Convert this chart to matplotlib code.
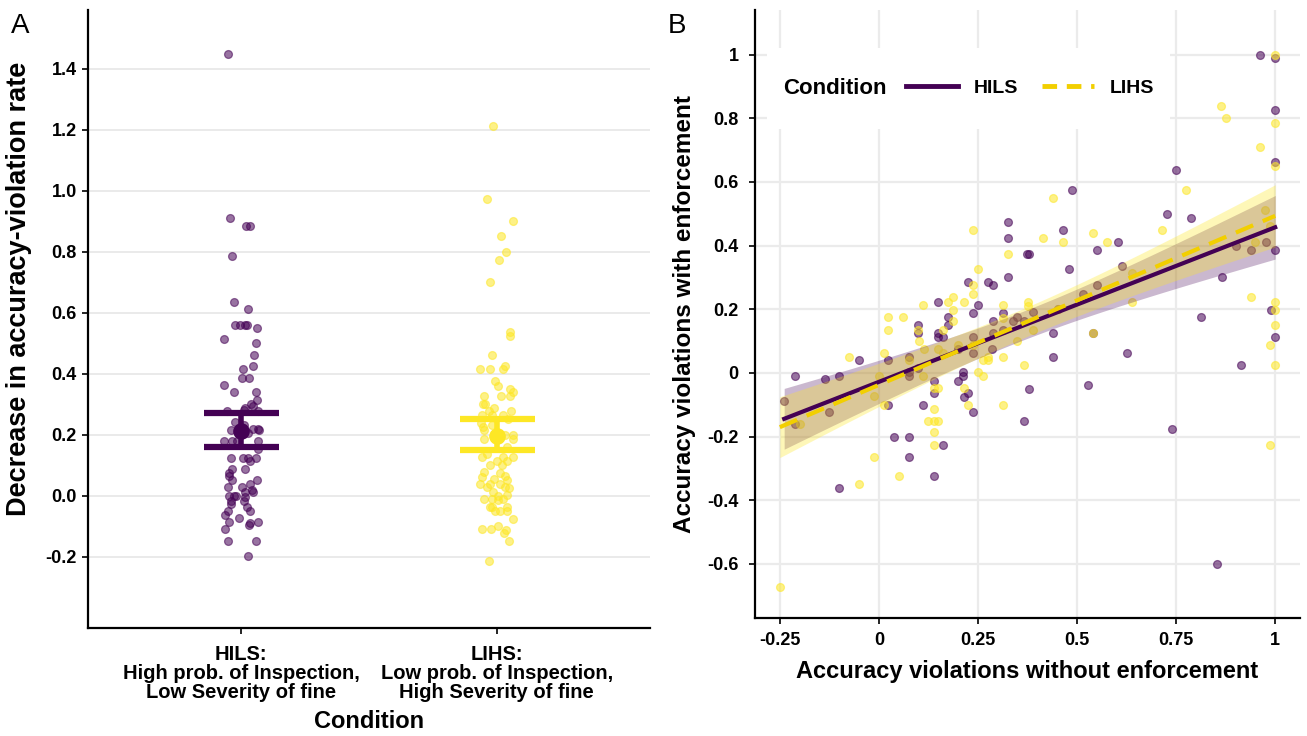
import numpy as np
import matplotlib
matplotlib.use('Agg')
import matplotlib.pyplot as plt
from matplotlib.lines import Line2D
from matplotlib.offsetbox import HPacker, VPacker, DrawingArea

plt.rcParams['font.family'] = ['Liberation Sans', 'DejaVu Sans']

PURPLE = '#440154'
YELLOW = '#FDE725'
GOLD = '#F2CF00'

# ---------------- Panel A data ----------------
conditions = ['HILS', 'LIHS']
cond_labels = ['HILS:\nHigh prob. of Inspection,\nLow Severity of fine',
               'LIHS:\nLow prob. of Inspection,\nHigh Severity of fine']

hils_dec = [1.448, 0.912, 0.886, 0.886, 0.786, 0.637, 0.613, 0.561, 0.561, 0.561,
            0.561, 0.550, 0.513, 0.500, 0.463, 0.426, 0.415, 0.387, 0.387, 0.364,
            0.340, 0.340, 0.314, 0.302, 0.295, 0.289, 0.278, 0.283, 0.278, 0.242,
            0.233, 0.216, 0.221, 0.221, 0.216, 0.205, 0.179, 0.179, 0.179, 0.179,
            0.154, 0.126, 0.126, 0.126, 0.126, 0.115, 0.089, 0.089, 0.075, 0.064,
            0.051, 0.053, 0.028, 0.028, 0.039, 0.019, 0.013, 0.013, 0.0, 0.0,
            0.0, -0.003, -0.015, -0.015, -0.026, -0.037, -0.048, -0.048, -0.062, -0.071,
            -0.084, -0.088, -0.084, -0.096, -0.110, -0.147, -0.147, -0.197]
# horizontal jitter (category units)
hils_jit = [-0.051, -0.045, 0.019, 0.035, -0.036, -0.030, 0.028, -0.023, -0.004, 0.015,
            0.022, 0.060, -0.066, 0.058, 0.051, 0.046, 0.006, 0.003, 0.032, -0.067,
            -0.030, 0.058, 0.062, 0.037, 0.048, 0.015, -0.055, 0.009, 0.067, -0.023,
            0.009, -0.042, 0.048, 0.064, 0.069, 0.028, -0.068, -0.036, -0.017, 0.067,
            0.064, -0.042, 0.006, 0.028, 0.057, 0.035, -0.036, 0.015, -0.046, -0.046,
            -0.036, 0.063, -0.051, 0.003, 0.035, 0.044, 0.048, 0.015, -0.049, -0.030,
            -0.021, 0.015, -0.039, 0.009, -0.042, 0.022, -0.051, 0.035, -0.064, -0.010,
            -0.049, 0.035, 0.067, 0.032, -0.062, -0.051, 0.057, 0.026]

lihs_dec = [1.213, 0.974, 0.900, 0.851, 0.800, 0.775, 0.700, 0.538, 0.525, 0.463,
            0.415, 0.415, 0.415, 0.427, 0.378, 0.362, 0.351, 0.340, 0.327, 0.327,
            0.327, 0.302, 0.302, 0.289, 0.277, 0.277, 0.266, 0.253, 0.266, 0.264,
            0.240, 0.225, 0.215, 0.231, 0.187, 0.200, 0.187, 0.200, 0.160, 0.127,
            0.138, 0.127, 0.102, 0.114, 0.127, 0.102, 0.113, 0.078, 0.062, 0.076,
            0.064, 0.040, 0.029, 0.054, 0.040, 0.051, 0.040, 0.029, 0.027, 0.002,
            0.013, -0.011, -0.011, 0.0, -0.011, -0.014, -0.036, -0.036, -0.036, -0.050,
            -0.050, -0.050, -0.074, -0.110, -0.110, -0.098, -0.112, -0.123, -0.148, -0.212]
lihs_jit = [-0.013, -0.039, 0.064, 0.017, 0.036, 0.009, -0.028, 0.054, 0.051, -0.017,
            -0.064, -0.026, 0.023, 0.032, -0.006, 0.006, 0.051, 0.064, 0.054, 0.017,
            -0.048, -0.055, -0.045, -0.010, -0.032, 0.055, 0.026, 0.045, -0.058, -0.019,
            -0.060, -0.054, -0.051, -0.019, -0.048, 0.064, 0.064, 0.032, 0.039, -0.058,
            -0.039, 0.064, -0.026, 0.0, 0.026, 0.019, 0.039, -0.051, -0.058, 0.013,
            0.032, -0.064, -0.039, -0.009, -0.026, 0.042, 0.013, 0.032, 0.049, 0.039,
            -0.013, -0.048, -0.019, 0.004, 0.023, 0.006, -0.028, -0.019, 0.041, -0.006,
            0.013, 0.039, 0.064, -0.058, -0.022, 0.004, 0.036, 0.030, 0.049, -0.030]

cond_means = [0.212, 0.198]
cond_ci_lo = [0.162, 0.151]
cond_ci_hi = [0.272, 0.253]

# ---------------- Panel B data ----------------
hils_x = [0.962, 1.0, 1.0, 1.0, 0.75, 0.487, 0.788, 0.726, 0.465, 0.603,
          0.378, 0.551, 0.90, 0.939, 0.976, 1.0, 0.479, 0.614, 0.865, 0.551,
          0.514, 0.39, 0.451, 0.814, 0.989, 1.0, 0.44, 0.54, 0.627, 0.44,
          0.913, 0.365, 0.378, 0.527, 0.365, 0.74, 0.852, 0.325, 0.325, 0.375,
          0.325, 0.225, 0.275, 0.288, 0.15, 0.25, 0.237, 0.314, 0.349, 0.339,
          0.175, 0.175, 0.099, 0.099, 0.15, 0.15, 0.161, 0.237, 0.288, 0.288,
          0.314, 0.286, -0.051, 0.024, 0.076, 0.2, 0.237, -0.212, -0.137, -0.1,
          0.076, 0.076, 0.099, 0.212, 0.212, -0.239, -0.212, -0.125, 0.024, 0.112,
          0.138, 0.138, 0.2, 0.214, 0.225, 0.237, 0.163, 0.037, 0.076, 0.076,
          0.138, -0.1]
hils_y = [1.0, 0.99, 0.825, 0.662, 0.638, 0.574, 0.488, 0.50, 0.449, 0.412,
          0.374, 0.386, 0.40, 0.386, 0.412, 0.386, 0.325, 0.337, 0.30, 0.275,
          0.249, 0.19, 0.20, 0.175, 0.199, 0.113, 0.126, 0.125, 0.062, 0.05,
          0.026, 0.162, -0.049, -0.037, -0.15, -0.175, -0.599, 0.475, 0.424, 0.374,
          0.30, 0.287, 0.287, 0.275, 0.224, 0.213, 0.188, 0.188, 0.175, 0.162,
          0.175, 0.15, 0.15, 0.126, 0.126, 0.113, 0.113, 0.113, 0.162, 0.126,
          0.136, 0.075, 0.039, 0.039, 0.05, 0.075, 0.063, -0.01, -0.02, -0.01,
          0.002, -0.01, 0.015, 0.002, -0.01, -0.087, -0.162, -0.124, -0.10, -0.10,
          -0.026, -0.063, -0.026, -0.075, -0.063, -0.124, -0.225, -0.2, -0.2, -0.263,
          -0.324, -0.361]

lihs_x = [1.0, 0.863, 0.877, 1.0, 0.962, 1.0, 0.775, 0.44, 0.974, 0.714,
          0.987, 0.415, 0.465, 0.54, 0.576, 0.949, 0.639, 0.639, 0.939, 0.377,
          0.377, 0.451, 1.0, 1.0, 1.0, 0.988, 0.54, 0.39, 0.365, 1.0,
          0.988, 0.237, 0.325, 0.25, 0.237, 0.237, 0.186, 0.175, 0.214, 0.112,
          0.186, 0.314, 0.314, 0.024, 0.062, 0.024, 0.188, 0.099, 0.161, 0.10,
          0.349, 0.113, 0.013, -0.076, 0.076, 0.15, 0.161, 0.2, 0.237, 0.263,
          0.275, 0.275, 0.314, 0.0, 0.112, 0.25, 0.263, -0.2, -0.012, 0.013,
          0.138, 0.15, 0.214, 0.225, 0.138, 0.125, 0.138, 0.15, 0.138, 0.138,
          -0.012, 0.05, -0.051, -0.25, 0.314]
lihs_y = [1.0, 0.837, 0.80, 0.786, 0.71, 0.65, 0.574, 0.548, 0.511, 0.449,
          0.461, 0.424, 0.412, 0.438, 0.412, 0.412, 0.314, 0.224, 0.238, 0.223,
          0.21, 0.20, 0.223, 0.199, 0.15, 0.088, 0.125, 0.136, 0.026, 0.026,
          -0.225, 0.449, 0.374, 0.325, 0.275, 0.249, 0.238, 0.224, 0.224, 0.213,
          0.199, 0.213, 0.173, 0.175, 0.175, 0.136, 0.162, 0.136, 0.136, 0.10,
          0.10, 0.075, 0.063, 0.05, 0.039, 0.075, 0.063, 0.088, 0.088, 0.039,
          0.039, 0.05, 0.05, -0.01, -0.01, 0.002, -0.01, -0.162, -0.073, -0.10,
          -0.047, -0.047, -0.047, -0.10, -0.112, -0.15, -0.15, -0.15, -0.187, -0.225,
          -0.263, -0.324, -0.35, -0.673, -0.10]

a_yticks = [-0.2, 0.0, 0.2, 0.4, 0.6, 0.8, 1.0, 1.2, 1.4]
b_xticks = [-0.25, 0, 0.25, 0.5, 0.75, 1]
b_xlabels = ['-0.25', '0', '0.25', '0.5', '0.75', '1']
b_yticks = [-0.6, -0.4, -0.2, 0, 0.2, 0.4, 0.6, 0.8, 1]
b_ylabels = ['-0.6', '-0.4', '-0.2', '0', '0.2', '0.4', '0.6', '0.8', '1']


def lm_fit(x, y, n=80):
    # linear fit with 95% confidence band, like geom_smooth(method = "lm")
    x = np.asarray(x)
    y = np.asarray(y)
    slope, icpt = np.polyfit(x, y, 1)
    resid = y - (icpt + slope * x)
    s = np.sqrt(np.sum(resid ** 2) / (len(x) - 2))
    xs = np.linspace(x.min(), x.max(), n)
    se = s * np.sqrt(1 / len(x) + (xs - x.mean()) ** 2 / np.sum((x - x.mean()) ** 2))
    ys = icpt + slope * xs
    return xs, ys, ys - 1.99 * se, ys + 1.99 * se


def style_axes(ax, pad):
    for side in ['top', 'right']:
        ax.spines[side].set_visible(False)
    for side in ['left', 'bottom']:
        ax.spines[side].set_linewidth(1.6)
        ax.spines[side].set_color('black')
    ax.tick_params(axis='both', length=4, width=1.2, color='black', labelsize=13)
    ax.tick_params(axis='y', pad=pad)
    for lab in ax.get_xticklabels() + ax.get_yticklabels():
        lab.set_fontweight('bold')
    ax.set_axisbelow(True)


fig = plt.figure(figsize=(13.07, 7.36), dpi=100)

# ---------------- Panel A ----------------
axA = fig.add_axes([0.0673, 0.1467, 0.43, 0.8397])
pos = np.arange(1, len(conditions) + 1)
groups = [(hils_dec, hils_jit, PURPLE), (lihs_dec, lihs_jit, YELLOW)]
for p, (vals, jit, col) in zip(pos, groups):
    axA.scatter(p + np.asarray(jit), vals, s=32, color=col, alpha=0.55,
                linewidths=0.9, edgecolors=col, zorder=2)
for p, m, lo, hi, col in zip(pos, cond_means, cond_ci_lo, cond_ci_hi, [PURPLE, YELLOW]):
    axA.errorbar(p, m, yerr=[[m - lo], [hi - m]], fmt='o', color=col, ms=11,
                 elinewidth=4, capsize=27, capthick=4.5, zorder=3)
axA.set_xlim(0.4, 2.6)
axA.set_ylim(-0.433, 1.593)
axA.set_xticks(pos)
axA.set_xticklabels(cond_labels, linespacing=1.0)
axA.set_yticks(a_yticks)
axA.set_yticklabels(['%.1f' % t for t in a_yticks])
axA.yaxis.grid(True, color='#E6E6E6', linewidth=1.2)
style_axes(axA, 4)
for lab in axA.get_xticklabels():
    lab.set_fontsize(14.5)
axA.tick_params(axis='x', pad=8)
axA.set_xlabel('Condition', fontsize=17, fontweight='bold', labelpad=6)
axA.set_ylabel('Decrease in accuracy-violation rate', fontsize=19.5, fontweight='bold')
axA.yaxis.set_label_coords(-0.1, 0.549)

# ---------------- Panel B ----------------
axB = fig.add_axes([0.5777, 0.1603, 0.4169, 0.8261])
axB.scatter(hils_x, hils_y, s=32, color=PURPLE, alpha=0.55, linewidths=0.9,
            edgecolors=PURPLE, zorder=2)
axB.scatter(lihs_x, lihs_y, s=32, color=YELLOW, alpha=0.55, linewidths=0.9,
            edgecolors=YELLOW, zorder=2)

xh, yh, loh, hih = lm_fit(hils_x, hils_y)
xl, yl, lol, hil = lm_fit(lihs_x, lihs_y)
axB.fill_between(xh, loh, hih, color=PURPLE, alpha=0.28, linewidth=0, zorder=3)
axB.fill_between(xl, lol, hil, color=YELLOW, alpha=0.32, linewidth=0, zorder=3)
line_h, = axB.plot(xh, yh, color=PURPLE, linewidth=3, zorder=4)
line_l, = axB.plot(xl, yl, color=GOLD, linewidth=3, dashes=(4.5, 2.5), zorder=5)

axB.set_xlim(-0.3125, 1.0625)
axB.set_ylim(-0.77, 1.14)
axB.set_xticks(b_xticks)
axB.set_xticklabels(b_xlabels)
axB.set_yticks(b_yticks)
axB.set_yticklabels(b_ylabels)
axB.grid(True, color='#EBEBEB', linewidth=1.6)
style_axes(axB, 8)
axB.tick_params(axis='x', pad=6)
axB.set_xlabel('Accuracy violations without enforcement', fontsize=17, fontweight='bold', labelpad=8)
axB.set_ylabel('Accuracy violations with enforcement', fontsize=17.5, fontweight='bold', labelpad=8)

h1 = Line2D([], [], color=PURPLE, linewidth=3.5)
h2 = Line2D([], [], color=GOLD, linewidth=3.5, dashes=(3, 2))
leg = axB.legend([h1, h2], ['HILS', 'LIHS'], title='Condition', ncol=2,
                 loc='upper left', bbox_to_anchor=(0.022, 0.9375), borderaxespad=0,
                 frameon=True, fancybox=False, handlelength=2.7, handletextpad=0.8,
                 columnspacing=1.2, borderpad=0.82,
                 prop={'weight': 'bold', 'size': 14})
leg.get_frame().set_facecolor('white')
leg.get_frame().set_edgecolor('none')
leg.get_frame().set_alpha(1)
leg.get_title().set_fontweight('bold')
leg.get_title().set_fontsize(16)
# put the legend title to the left of the keys, as ggplot does,
# with some extra room above and below
fs = leg._fontsize
row = HPacker(pad=leg.borderpad * fs, sep=1.0 * fs, align='center',
              children=[leg._legend_title_box, leg._legend_handle_box])
leg._legend_box = VPacker(pad=0, sep=0, align='center',
                          children=[DrawingArea(1, 10), row, DrawingArea(1, 10)])
leg._legend_box.set_figure(fig)
leg._legend_box.axes = axB
leg._legend_box.set_offset(leg._findoffset)
leg.set_zorder(10)

fig.text(0.008, 0.955, 'A', fontsize=20)
fig.text(0.511, 0.955, 'B', fontsize=20)

fig.savefig('out.png', dpi=100)
